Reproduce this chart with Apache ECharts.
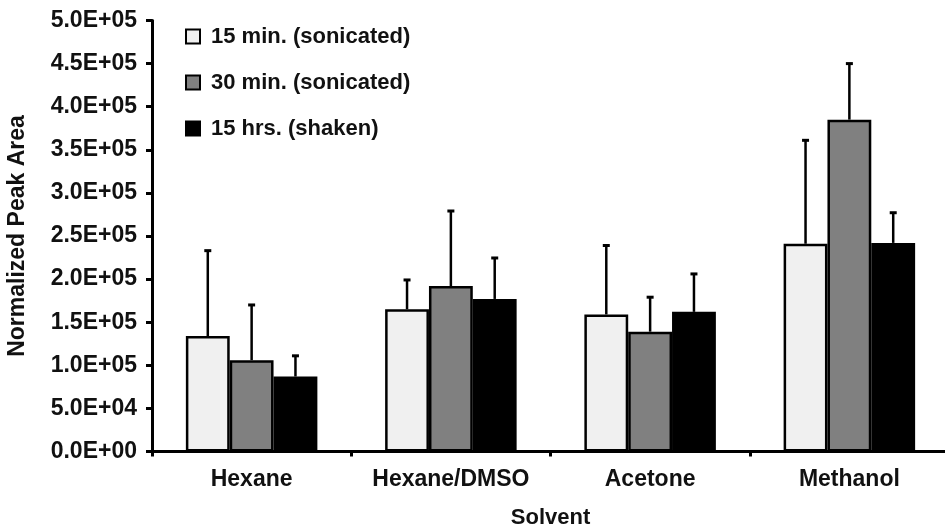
<!DOCTYPE html>
<html>
<head>
<meta charset="utf-8">
<script src="https://cdn.jsdelivr.net/npm/echarts@6/dist/echarts.min.js"></script>
<style>html,body{margin:0;padding:0;background:#fff}#c{width:945px;height:525px}</style>
</head>
<body>
<div id="c"></div>
<script>
const categories = ['Hexane', 'Hexane/DMSO', 'Acetone', 'Methanol'];
const seriesNames = ['15 min. (sonicated)', '30 min. (sonicated)', '15 hrs. (shaken)'];
const min15Values = [134000, 165000, 159000, 241000];
const min30Values = [106000, 192000, 139000, 385000];
const hrs15Values = [87000, 177000, 162000, 242000];
const min15Errors = [99000, 34000, 80000, 120000];
const min30Errors = [64000, 87000, 40000, 65000];
const hrs15Errors = [24000, 47500, 44000, 35000];
const yTickLabels = ['0.0E+00','5.0E+04','1.0E+05','1.5E+05','2.0E+05','2.5E+05','3.0E+05','3.5E+05','4.0E+05','4.5E+05','5.0E+05'];

const values = [min15Values, min30Values, hrs15Values];
const errors = [min15Errors, min30Errors, hrs15Errors];
const colors = ['#f0f0f0', '#808080', '#000000'];
const FONT = '"Liberation Sans", Arial, sans-serif';
const BAR_FRAC = 0.22;

const chart = echarts.init(document.getElementById('c'));

const barSeries = values.map((vals, i) => ({
  name: seriesNames[i],
  type: 'bar',
  data: vals,
  barWidth: (BAR_FRAC * 100) + '%',
  barGap: '0%',
  itemStyle: { color: colors[i], borderColor: '#000', borderWidth: 2.5 },
  z: 2
}));

const errSeries = values.map((vals, i) => ({
  name: 'err' + i,
  type: 'custom',
  data: vals.map((v, k) => [k, v, v + errors[i][k]]),
  z: 3,
  renderItem: function (params, api) {
    const base = api.coord([api.value(0), api.value(1)]);
    const top = api.coord([api.value(0), api.value(2)]);
    const catW = api.size([1, 0])[0];
    const x = base[0] + (i - 1) * catW * BAR_FRAC;
    const cap = 3.5;
    return {
      type: 'group',
      children: [
        { type: 'line', shape: { x1: x, y1: base[1], x2: x, y2: top[1] }, style: { stroke: '#000', lineWidth: 2.5 } },
        { type: 'line', shape: { x1: x - cap, y1: top[1], x2: x + cap, y2: top[1] }, style: { stroke: '#000', lineWidth: 3 } }
      ]
    };
  }
}));

chart.setOption({
  backgroundColor: '#fff',
  animation: false,
  textStyle: { fontFamily: FONT },
  legend: {
    data: seriesNames,
    orient: 'vertical',
    left: 180,
    top: 20.5,
    icon: 'rect',
    itemWidth: 14,
    itemHeight: 14,
    itemGap: 24,
    itemStyle: { borderWidth: 2, borderColor: '#000' },
    textStyle: { fontFamily: FONT, fontWeight: 'bold', fontSize: 22, color: '#111', lineHeight: 22, padding: [0, 0, 0, 6] }
  },
  grid: { left: 152, top: 20.5, width: 797, bottom: 73.5, outerBoundsMode: 'none', containLabel: false },
  xAxis: {
    type: 'category',
    data: categories,
    name: 'Solvent',
    nameLocation: 'middle',
    nameGap: 55,
    nameTextStyle: { fontFamily: FONT, fontWeight: 'bold', fontSize: 22, color: '#111' },
    axisLine: { lineStyle: { color: '#000', width: 3 } },
    axisTick: { show: true, interval: 0, length: 5, lineStyle: { color: '#000', width: 3 } },
    axisLabel: { interval: 0, hideOverlap: false, fontFamily: FONT, fontWeight: 'bold', fontSize: 23, color: '#111', margin: 17 },
    splitLine: { show: false }
  },
  yAxis: {
    type: 'value',
    min: 0,
    max: 500000,
    interval: 50000,
    name: 'Normalized Peak Area',
    nameLocation: 'middle',
    nameGap: 123,
    nameTextStyle: { fontFamily: FONT, fontWeight: 'bold', fontSize: 23, color: '#111' },
    axisLine: { show: true, lineStyle: { color: '#000', width: 3 } },
    axisTick: { show: true, length: 6, lineStyle: { color: '#000', width: 3 } },
    axisLabel: {
      fontFamily: FONT, fontWeight: 'bold', fontSize: 23, color: '#111', margin: 15,
      formatter: v => yTickLabels[Math.round(v / 50000)]
    },
    splitLine: { show: false }
  },
  series: barSeries.concat(errSeries)
});
</script>
</body>
</html>
